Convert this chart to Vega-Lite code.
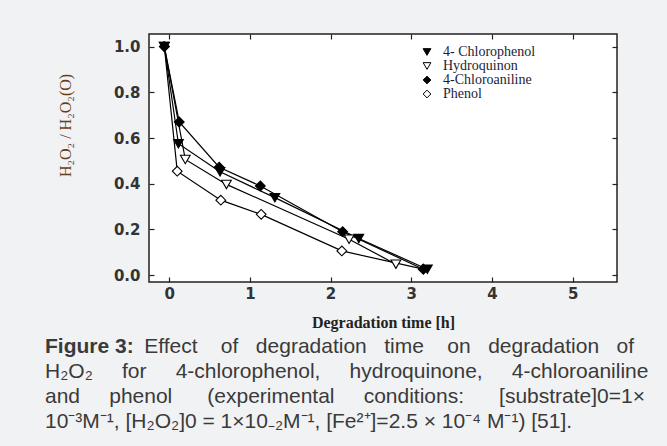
{
  "$schema": "https://vega.github.io/schema/vega-lite/v6.json",
  "autosize": {"type": "none"},
  "width": 468,
  "height": 248,
  "padding": {"left": 149, "top": 34, "right": 50, "bottom": 164},
  "background": "#f1f2f4",
  "config": {
    "view": {"fill": "white", "stroke": "#222222", "strokeWidth": 1.5},
    "axis": {"grid": false, "domain": false},
    "legend": {"orient": "none", "legendX": 271, "legendY": 11, "title": null,
               "labelFont": "Liberation Serif", "labelFontSize": 14, "labelColor": "#1c1c38",
               "labelBaseline": "middle",
               "symbolSize": 60, "symbolStrokeColor": "black", "symbolStrokeWidth": 1,
               "rowPadding": -6, "labelOffset": 9, "padding": 0}
  },
  "title": {
    "text": "Figure 3:",
    "subtitle": [
      "\u200b\u00a0\u00a0\u00a0\u00a0\u00a0\u00a0\u00a0\u00a0\u00a0\u00a0\u00a0\u00a0\u00a0\u00a0\u00a0\u00a0\u00a0Effect\u00a0\u00a0\u00a0\u00a0of\u00a0\u00a0\u00a0degradation\u00a0\u00a0\u00a0time\u00a0\u00a0\u00a0\u00a0on\u00a0\u00a0\u00a0degradation\u00a0\u00a0\u00a0of",
      "H₂O₂\u00a0\u00a0\u00a0\u00a0\u00a0for\u00a0\u00a0\u00a0\u00a0\u00a04-chlorophenol,\u00a0\u00a0\u00a0\u00a0\u00a0hydroquinone,\u00a0\u00a0\u00a0\u00a0\u00a04-chloroaniline",
      "and\u00a0\u00a0\u00a0\u00a0\u00a0phenol\u00a0\u00a0\u00a0\u00a0\u00a0\u00a0(experimental\u00a0\u00a0\u00a0\u00a0\u00a0conditions:\u00a0\u00a0\u00a0\u00a0\u00a0\u00a0[substrate]0=1×",
      "10⁻³M⁻¹, [H₂O₂]0 = 1×10₋₂M⁻¹, [Fe²⁺]=2.5 × 10⁻⁴ M⁻¹) [51]."
    ],
    "orient": "bottom",
    "anchor": "start",
    "frame": "group",
    "dx": -104,
    "offset": 6,
    "font": "Liberation Sans",
    "fontSize": 21,
    "fontWeight": "bold",
    "color": "#3a3a3a",
    "subtitleFont": "Liberation Sans",
    "subtitleFontSize": 21,
    "subtitleFontWeight": "normal",
    "subtitleColor": "#3a3a3a",
    "subtitleLineHeight": 25,
    "subtitlePadding": -21
  },
  "data": {
    "values": [
      {"compound": "Phenol", "t": -0.06, "r": 1.0},
      {"compound": "Phenol", "t": 0.10, "r": 0.455},
      {"compound": "Phenol", "t": 0.64, "r": 0.328},
      {"compound": "Phenol", "t": 1.14, "r": 0.266},
      {"compound": "Phenol", "t": 2.14, "r": 0.106},
      {"compound": "Phenol", "t": 3.15, "r": 0.026},
      {"compound": "Hydroquinon", "t": -0.06, "r": 1.0},
      {"compound": "Hydroquinon", "t": 0.20, "r": 0.506},
      {"compound": "Hydroquinon", "t": 0.71, "r": 0.397},
      {"compound": "Hydroquinon", "t": 2.23, "r": 0.157},
      {"compound": "Hydroquinon", "t": 2.81, "r": 0.048},
      {"compound": "4-Chloroaniline", "t": -0.06, "r": 1.0},
      {"compound": "4-Chloroaniline", "t": 0.125, "r": 0.67},
      {"compound": "4-Chloroaniline", "t": 0.62, "r": 0.472},
      {"compound": "4-Chloroaniline", "t": 1.13, "r": 0.39},
      {"compound": "4-Chloroaniline", "t": 2.15, "r": 0.19},
      {"compound": "4-Chloroaniline", "t": 3.15, "r": 0.026},
      {"compound": "4- Chlorophenol", "t": -0.06, "r": 1.0},
      {"compound": "4- Chlorophenol", "t": 0.115, "r": 0.575},
      {"compound": "4- Chlorophenol", "t": 0.63, "r": 0.452},
      {"compound": "4- Chlorophenol", "t": 1.31, "r": 0.339},
      {"compound": "4- Chlorophenol", "t": 2.35, "r": 0.16},
      {"compound": "4- Chlorophenol", "t": 3.2, "r": 0.026}
    ]
  },
  "layer": [
    {
      "mark": {"type": "line", "color": "black", "strokeWidth": 1.2},
      "encoding": {
        "x": {
          "field": "t", "type": "quantitative",
          "scale": {"domain": [-0.25, 5.55], "nice": false, "zero": false},
          "axis": {
            "orient": "bottom", "values": [0, 1, 2, 3, 4, 5], "format": "d",
            "tickSize": -5, "tickColor": "#222222", "tickWidth": 1.2,
            "labelFont": "DejaVu Sans", "labelFontWeight": "bold", "labelFontSize": 15,
            "labelColor": "#333333", "labelPadding": 9,
            "title": "Degradation time [h]", "titleFont": "Liberation Serif",
            "titleFontSize": 16, "titleFontWeight": "bold", "titleColor": "#222222",
            "titlePadding": 13
          }
        },
        "y": {
          "field": "r", "type": "quantitative",
          "scale": {"domain": [-0.03, 1.055], "nice": false, "zero": false},
          "axis": {
            "orient": "left", "values": [0, 0.2, 0.4, 0.6, 0.8, 1.0], "format": ".1f",
            "tickSize": -5, "tickColor": "#222222", "tickWidth": 1.2,
            "labelFont": "DejaVu Sans", "labelFontWeight": "bold", "labelFontSize": 15,
            "labelColor": "#333333", "labelPadding": 14,
            "title": "H₂O₂ / H₂O₂(O)", "titleFont": "Liberation Serif",
            "titleFontSize": 16, "titleFontWeight": "normal", "titleColor": "#6b3d14",
            "titleAngle": 270, "titleX": -84, "titleY": 91,
            "titleBaseline": "middle", "titleAlign": "center"
          }
        },
        "detail": {"field": "compound"},
        "order": {"field": "t"}
      }
    },
    {
      "mark": {"type": "point", "filled": true, "strokeWidth": 1.1, "size": 95, "opacity": 1},
      "encoding": {
        "x": {
          "field": "t", "type": "quantitative",
          "axis": {"orient": "top", "values": [0, 1, 2, 3, 4, 5], "labels": false, "title": null,
                   "tickSize": -5, "tickColor": "#222222", "tickWidth": 1.2}
        },
        "y": {
          "field": "r", "type": "quantitative",
          "axis": {"orient": "right", "values": [0, 0.2, 0.4, 0.6, 0.8, 1.0], "labels": false, "title": null,
                   "tickSize": -5, "tickColor": "#222222", "tickWidth": 1.2}
        },
        "shape": {
          "field": "compound", "type": "nominal",
          "scale": {"domain": ["4- Chlorophenol", "Hydroquinon", "4-Chloroaniline", "Phenol"],
                    "range": ["triangle-down", "triangle-down", "diamond", "diamond"]}
        },
        "fill": {
          "field": "compound", "type": "nominal",
          "scale": {"domain": ["4- Chlorophenol", "Hydroquinon", "4-Chloroaniline", "Phenol"],
                    "range": ["black", "white", "black", "white"]}
        },
        "stroke": {
          "field": "compound", "type": "nominal",
          "scale": {"domain": ["4- Chlorophenol", "Hydroquinon", "4-Chloroaniline", "Phenol"],
                    "range": ["black", "black", "black", "black"]}
        }
      }
    }
  ],
  "resolve": {"axis": {"x": "independent", "y": "independent"}}
}
